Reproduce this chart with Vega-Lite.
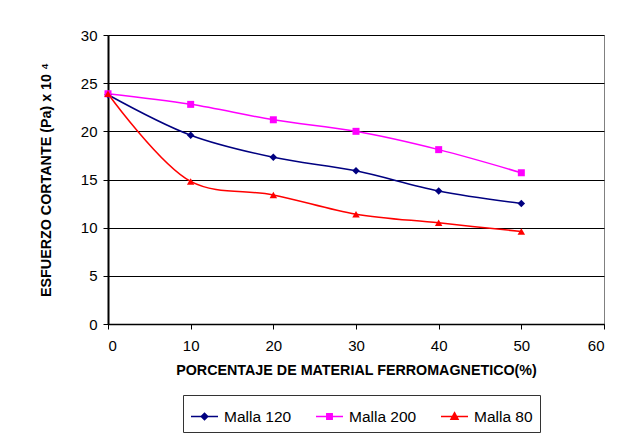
{
  "$schema": "https://vega.github.io/schema/vega-lite/v6.json",
  "width": 496,
  "height": 289,
  "autosize": {"type": "none"},
  "padding": {"left": 108, "top": 35, "right": 20, "bottom": 112},
  "background": "white",
  "config": {
    "font": "Liberation Sans",
    "view": {"stroke": "#808080", "strokeWidth": 1},
    "axis": {
      "labelFont": "Liberation Sans",
      "labelFontSize": 15,
      "labelColor": "black",
      "titleFont": "Liberation Sans",
      "titleFontSize": 14.3,
      "titleFontWeight": "bold",
      "titleColor": "black",
      "tickColor": "black",
      "tickSize": 5,
      "domainColor": "black",
      "gridColor": "black",
      "gridWidth": 1,
      "gridOpacity": 1
    }
  },
  "data": {
    "values": [
      {"pct": 0, "esfuerzo": 23.8, "serie": "Malla 120"},
      {"pct": 10, "esfuerzo": 19.6, "serie": "Malla 120"},
      {"pct": 20, "esfuerzo": 17.3, "serie": "Malla 120"},
      {"pct": 30, "esfuerzo": 15.9, "serie": "Malla 120"},
      {"pct": 40, "esfuerzo": 13.8, "serie": "Malla 120"},
      {"pct": 50, "esfuerzo": 12.5, "serie": "Malla 120"},
      {"pct": 0, "esfuerzo": 23.9, "serie": "Malla 200"},
      {"pct": 10, "esfuerzo": 22.8, "serie": "Malla 200"},
      {"pct": 20, "esfuerzo": 21.2, "serie": "Malla 200"},
      {"pct": 30, "esfuerzo": 20.0, "serie": "Malla 200"},
      {"pct": 40, "esfuerzo": 18.1, "serie": "Malla 200"},
      {"pct": 50, "esfuerzo": 15.7, "serie": "Malla 200"},
      {"pct": 0, "esfuerzo": 23.9, "serie": "Malla 80"},
      {"pct": 10, "esfuerzo": 14.8, "serie": "Malla 80"},
      {"pct": 20, "esfuerzo": 13.4, "serie": "Malla 80"},
      {"pct": 30, "esfuerzo": 11.4, "serie": "Malla 80"},
      {"pct": 40, "esfuerzo": 10.5, "serie": "Malla 80"},
      {"pct": 50, "esfuerzo": 9.6, "serie": "Malla 80"}
    ]
  },
  "encoding": {
    "x": {
      "field": "pct",
      "type": "quantitative",
      "scale": {"domain": [0, 60], "nice": false},
      "axis": {
        "values": [0, 10, 20, 30, 40, 50, 60],
        "grid": false,
        "domainWidth": 1.5,
        "labelPadding": 9,
        "titlePadding": 10,
        "title": "PORCENTAJE DE MATERIAL FERROMAGNETICO(%)"
      }
    },
    "y": {
      "field": "esfuerzo",
      "type": "quantitative",
      "scale": {"domain": [0, 30], "nice": false},
      "axis": {
        "values": [0, 5, 10, 15, 20, 25, 30],
        "grid": true,
        "domainWidth": 2,
        "labelPadding": 6,
        "titlePadding": 27,
        "title": "ESFUERZO CORTANTE (Pa) x 10 ⁴"
      }
    },
    "color": {
      "field": "serie",
      "type": "nominal",
      "scale": {
        "domain": ["Malla 120", "Malla 200", "Malla 80"],
        "range": ["#000080", "#FF00FF", "#FF0000"]
      },
      "legend": {
        "title": null,
        "orient": "none",
        "direction": "horizontal",
        "legendX": 75,
        "legendY": 360,
        "padding": 7,
        "strokeColor": "#333333",
        "fillColor": "white",
        "labelFont": "Liberation Sans",
        "labelFontSize": 15.5,
        "labelColor": "black",
        "labelOffset": 5,
        "columnPadding": 21,
        "symbolSize": 729,
        "symbolStrokeWidth": 1.5,
        "encode": {
          "symbols": {
            "update": {
              "shape": {"signal": "datum.value === 'Malla 120' ? 'M-1,0H1M0,-0.24L0.24,0L0,0.24L-0.24,0Z' : datum.value === 'Malla 200' ? 'M-1,0H1M-0.2,-0.2H0.2V0.2H-0.2Z' : 'M-1,0H1M0,-0.28L0.26,0.2H-0.26Z'"},
              "fill": {"scale": "color", "field": "value"},
              "stroke": {"scale": "color", "field": "value"},
              "strokeWidth": {"value": 1.5},
              "opacity": {"value": 1}
            }
          }
        }
      }
    }
  },
  "layer": [
    {
      "mark": {"type": "line", "interpolate": "catmull-rom", "strokeWidth": 1.5}
    },
    {
      "transform": [{"filter": "datum.serie === 'Malla 120'"}],
      "mark": {"type": "point", "shape": "diamond", "filled": true, "opacity": 1, "size": 56}
    },
    {
      "transform": [{"filter": "datum.serie === 'Malla 200'"}],
      "mark": {"type": "point", "shape": "square", "filled": true, "opacity": 1, "size": 49}
    },
    {
      "transform": [{"filter": "datum.serie === 'Malla 80'"}],
      "mark": {"type": "point", "shape": "triangle-up", "filled": true, "opacity": 1, "size": 56}
    }
  ]
}
